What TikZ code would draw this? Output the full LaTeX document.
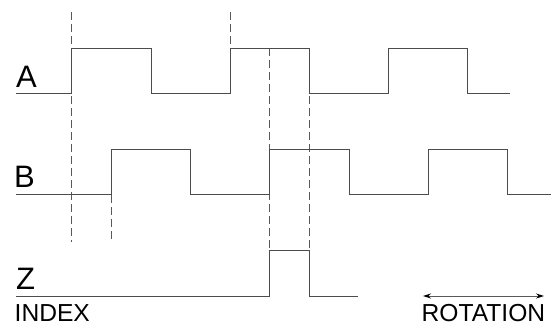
\documentclass[tikz,border=0pt]{standalone}
\usepackage{fontspec}
\setmainfont{Liberation Sans}
\usetikzlibrary{arrows.meta}
\tikzset{
  wave/.style={draw=black!70,line width=0.8pt,line join=miter},
  guide/.style={draw=black!65,line width=0.7pt,dash pattern=on 8pt off 4pt},
  biglabel/.style={anchor=base west,inner sep=0pt,font=\fontsize{31}{31}\selectfont},
  smalllabel/.style={anchor=base west,inner sep=0pt,text depth=0pt,font=\fontsize{24.6}{25}\selectfont},
  span/.style={draw=black!65,line width=0.9pt,{Stealth[length=8pt,width=5pt,black]}-{Stealth[length=8pt,width=5pt,black]}}
}
\begin{document}
\begin{tikzpicture}[x=1pt,y=-1pt]
\useasboundingbox (0,0) rectangle (551,324);
% guides
\draw[guide] (71.5,12) -- (71.5,242);
\draw[guide] (230,12) -- (230,48);
\draw[guide] (111,194.5) -- (111,242);
\draw[guide] (269.7,48) -- (269.7,250);
\draw[guide] (309.3,96) -- (309.3,250);
% A
\draw[wave] (16,93.5) -| (71.5,48) -| (151,93.5) -| (230,48) -| (309.3,93.5) -| (388.5,48) -| (467.5,93.5) -- (510,93.5);
% B
\draw[wave] (16,194.5) -| (111,149) -| (190.5,194.5) -| (269.7,149) -| (349,194.5) -| (428,149) -| (507.5,194.5) -- (551,194.5);
% Z
\draw[wave] (16,296) -| (269.7,250.5) -| (309.3,296) -- (358,296);
% labels
\node[biglabel] (la) at (16,87) {A};
\node[biglabel] (lb) at (14,187) {B};
\node[biglabel] (lz) at (16,289) {Z};
\node[smalllabel] (idx) at (14.5,321) {INDEX};
\node[smalllabel] (rot) at (421.5,321) {ROTATION};
\coordinate (rl) at (423,296);
\coordinate (rr) at (544,296);
\draw[span] (rl) -- (rr);
\end{tikzpicture}
\end{document}
